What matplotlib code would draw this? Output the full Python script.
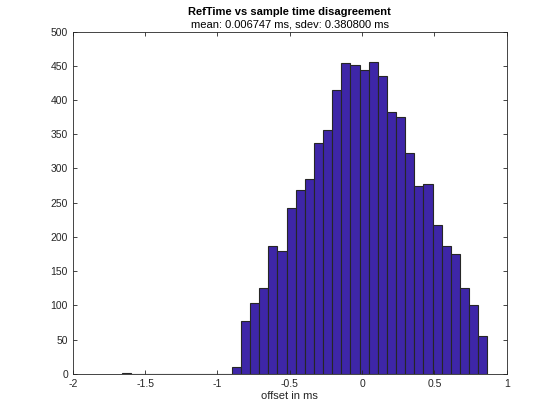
import numpy as np
import matplotlib
matplotlib.use("Agg")
import matplotlib.pyplot as plt

plt.rcParams['font.family'] = ['Liberation Sans', 'DejaVu Sans']

# histogram counts, 40 equal bins
bin_lo = -1.659
bin_hi = 0.866
counts = [1, 0, 0, 0, 0, 0, 0, 0, 0, 0, 0, 0,
          10, 77, 104, 125, 186, 180, 242, 269, 285, 337,
          356, 414, 454, 451, 444, 456, 435, 382, 375, 322,
          274, 277, 218, 186, 175, 126, 100, 55]

title_main = "RefTime vs sample time disagreement"
title_sub = "mean: 0.006747 ms, sdev: 0.380800 ms"
xlabel = "offset in ms"

edges = np.linspace(bin_lo, bin_hi, len(counts) + 1)

fig = plt.figure(figsize=(5.6, 4.2), dpi=100)
ax = fig.add_axes([0.13, 0.11, 0.775, 0.815])

ax.bar(edges[:-1], counts, width=np.diff(edges), align="edge",
       color="#3e26a8", edgecolor="#262626", linewidth=0.8)

ax.set_xlim(-2, 1)
ax.set_ylim(0, 500)
ax.set_xticks(np.arange(-2, 1.01, 0.5))
ax.set_xticklabels(["-2", "-1.5", "-1", "-0.5", "0", "0.5", "1"])
ax.set_yticks(np.arange(0, 501, 50))

for s in ax.spines.values():
    s.set_color("#262626")
    s.set_linewidth(0.6)
ax.tick_params(direction="in", length=3, width=0.6, colors="#262626",
               labelsize=7.5, top=True, right=True)

ax.set_xlabel(xlabel, fontsize=8, color="#262626", labelpad=2)
fig.text(0.5175, 0.983, title_main, ha="center", va="top",
         fontsize=8, fontweight="bold", color="black")
fig.text(0.5175, 0.954, title_sub, ha="center", va="top",
         fontsize=8, color="black")

fig.savefig("out.png", dpi=100)
